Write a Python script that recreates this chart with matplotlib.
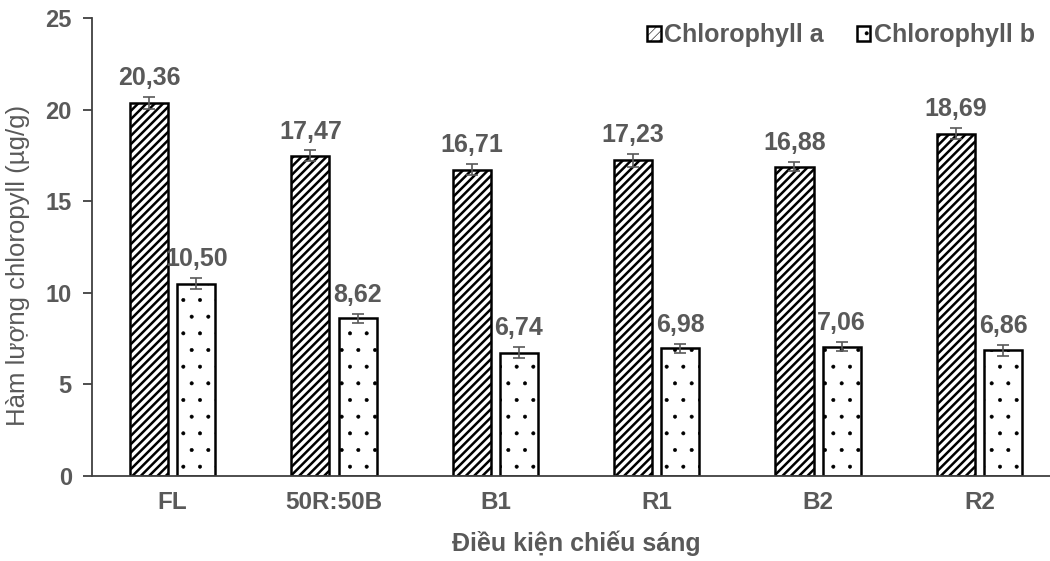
import matplotlib
matplotlib.use("Agg")
import matplotlib.pyplot as plt
import numpy as np

categories = ["FL", "50R:50B", "B1", "R1", "B2", "R2"]
chl_a = [20.36, 17.47, 16.71, 17.23, 16.88, 18.69]
chl_b = [10.50, 8.62, 6.74, 6.98, 7.06, 6.86]
err_a = [0.35, 0.30, 0.30, 0.35, 0.25, 0.30]
err_b = [0.30, 0.25, 0.30, 0.25, 0.25, 0.30]
labels_a = ["20,36", "17,47", "16,71", "17,23", "16,88", "18,69"]
labels_b = ["10,50", "8,62", "6,74", "6,98", "7,06", "6,86"]
yticks = [0, 5, 10, 15, 20, 25]

plt.rcParams['font.family'] = ['Liberation Sans', 'DejaVu Sans']

gray = "#595959"
fig = plt.figure(figsize=(10.5, 5.61), dpi=100)
ax = fig.add_axes([0.0876, 0.1515, 0.922, 0.8164])

x = np.arange(len(categories))
w = 0.236
off = 0.146
plt.rcParams['hatch.linewidth'] = 1.8
ba = ax.bar(x - off, chl_a, w, color="white", edgecolor="black", linewidth=1.8,
            hatch="////", label="Chlorophyll a", zorder=2)
plt.rcParams['hatch.linewidth'] = 0.4
bb = ax.bar(x + off, chl_b, w, color="white", edgecolor="black", linewidth=1.8,
            hatch=".", label="Chlorophyll b", zorder=2)
ax.errorbar(x - off, chl_a, yerr=err_a, fmt="none", ecolor=gray, elinewidth=1.2,
            capsize=4, capthick=1.2, zorder=3)
ax.errorbar(x + off, chl_b, yerr=err_b, fmt="none", ecolor=gray, elinewidth=1.2,
            capsize=4, capthick=1.2, zorder=3)

for xi, v, e, t in zip(x - off, chl_a, err_a, labels_a):
    ax.annotate(t, (xi, v + e), xytext=(0, 5), textcoords="offset points",
                ha="center", va="bottom", fontsize=18, fontweight="bold", color=gray)
for xi, v, e, t in zip(x + off, chl_b, err_b, labels_b):
    ax.annotate(t, (xi, v + e), xytext=(0, 5), textcoords="offset points",
                ha="center", va="bottom", fontsize=18, fontweight="bold", color=gray)

ax.set_xlim(-0.5, len(categories) - 0.5)
ax.set_ylim(0, 25)
ax.set_yticks(yticks)
ax.set_xticks(x)
ax.set_xticklabels(categories)
for s in ["top", "right"]:
    ax.spines[s].set_visible(False)
for s in ["left", "bottom"]:
    ax.spines[s].set_color("#404040")
    ax.spines[s].set_linewidth(1.3)
ax.tick_params(axis="y", length=6.5, width=1.3, color="#404040", pad=8,
               labelsize=17, labelcolor=gray)
ax.tick_params(axis="x", length=0, pad=11, labelsize=17.5, labelcolor=gray)
for lab in ax.get_xticklabels() + ax.get_yticklabels():
    lab.set_fontweight("bold")

ax.set_ylabel("Hàm lượng chloropyll (µg/g)", fontsize=18.5, color=gray)
ax.yaxis.set_label_coords(-0.064, 0.46)
ax.set_xlabel("Điều kiện chiếu sáng", fontsize=18, color=gray, fontweight="bold", labelpad=12)

leg = fig.legend(handles=[ba, bb], loc="upper right", bbox_to_anchor=(1.0, 0.985),
                 ncol=2, frameon=False, fontsize=18, handlelength=0.55, handleheight=0.55,
                 handletextpad=0.15, columnspacing=1.3, borderaxespad=0.2)
for t in leg.get_texts():
    t.set_fontweight("bold")
    t.set_color(gray)

fig.savefig("out.png", dpi=100)
